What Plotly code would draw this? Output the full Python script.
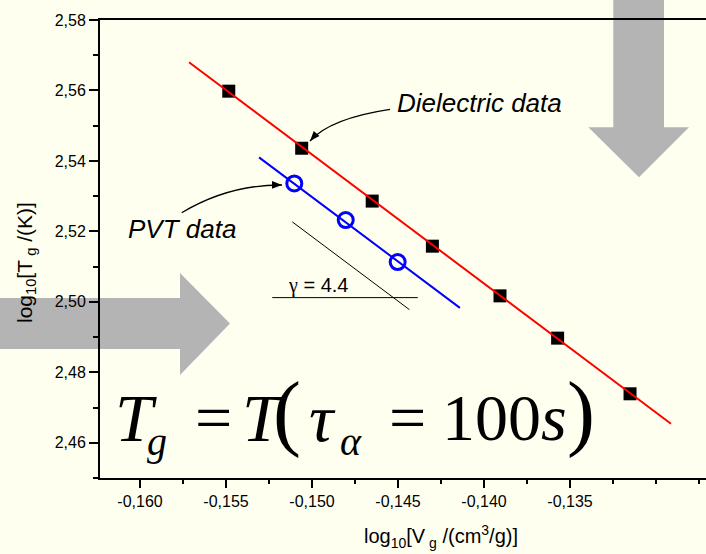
import plotly.graph_objects as go

# ---------------- data ----------------
diel_x = [-0.15484, -0.15060, -0.14650, -0.14300, -0.13907, -0.13572, -0.13151]
diel_y = [2.5598, 2.5436, 2.5286, 2.5158, 2.5017, 2.4897, 2.4739]

pvt_x = [-0.15103, -0.14804, -0.14502]
pvt_y = [2.5336, 2.5232, 2.5113]

diel_fit_x = [-0.15715, -0.12913]
diel_fit_y = [2.5680, 2.4654]
pvt_fit_x = [-0.15308, -0.14140]
pvt_fit_y = [2.5410, 2.4983]

slope_diag_x = [-0.151145, -0.14434]
slope_diag_y = [2.5227, 2.4978]
slope_hor_x = [-0.15231, -0.14385]
slope_hor_y = [2.5012, 2.5012]

x_tick_vals = [-0.160, -0.155, -0.150, -0.145, -0.140, -0.135]
x_tick_text = ["-0,160", "-0,155", "-0,150", "-0,145", "-0,140", "-0,135"]
y_tick_vals = [2.46, 2.48, 2.50, 2.52, 2.54, 2.56, 2.58]
y_tick_text = ["2,46", "2,48", "2,50", "2,52", "2,54", "2,56", "2,58"]

# ---------------- layout geometry ----------------
W, H = 706, 554
ML, MR, MT, MB = 100, 0, 20, 76
PW = W - ML - MR
PH = H - MT - MB
BG = "#FFFFF0"
GRAY = "#B4B4B4"
SANS = "Liberation Sans, Arial, sans-serif"
SERIF = "Liberation Serif, Times New Roman, serif"


def X(p):
    return (p - ML) / PW


def Y(p):
    return (H - MB - p) / PH


fig = go.Figure()

fig.add_trace(go.Scatter(x=diel_x, y=diel_y, mode="markers",
                         marker=dict(symbol="square", size=13, color="black"),
                         showlegend=False))
fig.add_trace(go.Scatter(x=pvt_x, y=pvt_y, mode="markers",
                         marker=dict(symbol="circle-open", size=15, color="#0000FF",
                                     line=dict(width=3, color="#0000FF")),
                         showlegend=False))
fig.add_trace(go.Scatter(x=diel_fit_x, y=diel_fit_y, mode="lines",
                         line=dict(color="#FF0000", width=2), showlegend=False))
fig.add_trace(go.Scatter(x=pvt_fit_x, y=pvt_fit_y, mode="lines",
                         line=dict(color="#0000FF", width=2), showlegend=False))
fig.add_trace(go.Scatter(x=slope_diag_x, y=slope_diag_y, mode="lines",
                         line=dict(color="black", width=1), showlegend=False))
fig.add_trace(go.Scatter(x=slope_hor_x, y=slope_hor_y, mode="lines",
                         line=dict(color="black", width=1), showlegend=False))

shapes = []


def poly(pts):
    d = "M " + " L ".join(f"{X(a):.5f},{Y(b):.5f}" for a, b in pts) + " Z"
    return d


# big gray arrows
shapes.append(dict(type="path", xref="paper", yref="paper", layer="below",
                   path=poly([(-5, 298), (180, 298), (180, 273), (230, 323.5),
                              (180, 375), (180, 349), (-5, 349)]),
                   fillcolor=GRAY, line=dict(width=0)))
shapes.append(dict(type="path", xref="paper", yref="paper", layer="below",
                   path=poly([(613.3, -5), (664, -5), (664, 127.3), (689, 127.3),
                              (639, 177.3), (588.3, 127.3), (613.3, 127.3)]),
                   fillcolor=GRAY, line=dict(width=0)))


def curve_arrow(p0, p1, p2):
    path = (f"M {X(p0[0]):.5f},{Y(p0[1]):.5f} Q {X(p1[0]):.5f},{Y(p1[1]):.5f} "
            f"{X(p2[0]):.5f},{Y(p2[1]):.5f}")
    shapes.append(dict(type="path", xref="paper", yref="paper", path=path,
                       line=dict(color="black", width=1.3)))
    dx, dy = p2[0] - p1[0], p2[1] - p1[1]
    n = (dx * dx + dy * dy) ** 0.5
    ux, uy = dx / n, dy / n
    L, Wd = 10, 3.8
    bx, by = p2[0] - L * ux, p2[1] - L * uy
    px_, py_ = -uy, ux
    shapes.append(dict(type="path", xref="paper", yref="paper",
                       path=poly([(p2[0], p2[1]), (bx + Wd * px_, by + Wd * py_),
                                  (bx - Wd * px_, by - Wd * py_)]),
                       fillcolor="black", line=dict(width=0)))


curve_arrow((390, 109.3), (330, 118.3), (310, 141))
curve_arrow((181.7, 212.7), (229, 184.5), (282, 185))

annotations = []


def ann(text, xp, yp, size, family=SANS, xanchor="center", angle=0):
    annotations.append(dict(text=text, x=X(xp), y=Y(yp), xref="paper", yref="paper",
                            xanchor=xanchor, yanchor="middle", showarrow=False,
                            textangle=angle,
                            font=dict(family=family, size=size, color="black")))


ann("<i>Dielectric data</i>", 479.5, 102.7, 26)
ann("<i>PVT data</i>", 181.5, 228.5, 26)
ann("<span style='font-family:Liberation Serif'>γ</span> = 4.4", 317.5, 285.3, 20)
ann("log<sub>10</sub>[V<sub> g</sub> /(cm<sup>3</sup>/g)]", 441, 536, 20)
ann("log<sub>10</sub>[T<sub> g</sub> /(K)]", 26, 263, 21, angle=-90)

# formula T_g = T(tau_alpha = 100 s)
ann("<i>T</i>", 113, 417.5, 68, SERIF, "left")
ann("<i>g</i>", 145, 441.7, 40, SERIF, "left")
ann("=", 213, 417.5, 66, SERIF)
ann("<i>T</i>", 240, 417.5, 68, SERIF, "left")
ann("(", 287, 412, 84, SERIF)
ann("<i>τ</i>", 307, 417.5, 68, SERIF, "left")
ann("<i>α</i>", 338, 441.7, 40, SERIF, "left")
ann("=", 407, 417.5, 66, SERIF)
ann("100<i>s</i>", 440, 417.5, 66, SERIF, "left")
ann(")", 581, 412, 84, SERIF)

fig.update_layout(
    width=W, height=H, autosize=False,
    margin=dict(l=ML, r=MR, t=MT, b=MB, pad=0),
    paper_bgcolor=BG, plot_bgcolor="rgba(0,0,0,0)",
    shapes=shapes, annotations=annotations, showlegend=False,
    font=dict(family=SANS, color="black"),
)
fig.update_xaxes(range=[-0.162326, -0.127093], tickvals=x_tick_vals, ticktext=x_tick_text,
                 ticks="outside", ticklen=8, tickwidth=1.5, tickcolor="black",
                 ticklabelstandoff=0,
                 showline=True, linewidth=2, linecolor="black", mirror=True,
                 showgrid=False, zeroline=False,
                 tickfont=dict(family=SANS, size=16, color="black"),
                 minor=dict(ticks="outside", ticklen=4, tickwidth=1.5, tickcolor="black",
                            dtick=0.0025, tick0=-0.16, showgrid=False))
fig.update_yaxes(range=[2.45, 2.58], tickvals=y_tick_vals, ticktext=y_tick_text,
                 ticks="outside", ticklen=9, tickwidth=1.5, tickcolor="black",
                 showline=True, linewidth=2, linecolor="black", mirror=False,
                 showgrid=False, zeroline=False,
                 tickfont=dict(family=SANS, size=16, color="black"),
                 minor=dict(ticks="outside", ticklen=5, tickwidth=1.5, tickcolor="black",
                            dtick=0.01, tick0=2.45, showgrid=False))

fig.write_html("out.html")
